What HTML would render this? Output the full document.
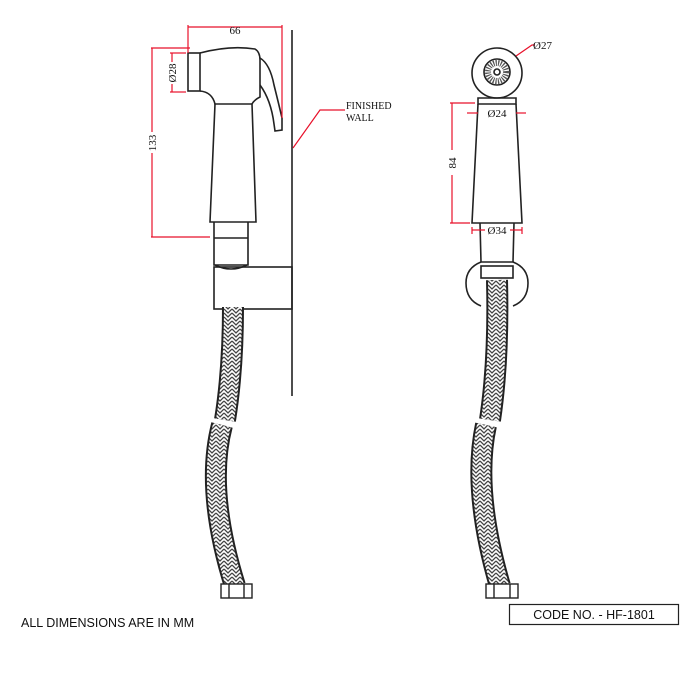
<!DOCTYPE html>
<html><head><style>html,body{margin:0;padding:0;background:#fff}svg{display:block}</style></head>
<body>
<svg width="700" height="700" viewBox="0 0 700 700" xmlns="http://www.w3.org/2000/svg" font-family="Liberation Serif, serif">
<defs>
<pattern id="h" width="8" height="8" patternUnits="userSpaceOnUse">
<rect width="8" height="8" fill="#fff"/>
<path d="M0,1 L4,5 L8,1 M0,5 L4,9 L8,5 M0,-3 L4,1 L8,-3" stroke="#444" stroke-width="1.3" fill="none"/>
</pattern>
</defs>
<g fill="none" stroke="#222" stroke-width="1.6">
<line x1="292" y1="30" x2="292" y2="396"/>
<!-- left head -->
<rect x="188" y="53" width="12" height="38"/>
<path d="M200,53 Q230,45 255,49 Q260,52 260,60 L260,97 Q254,100 252,104"/>
<path d="M200,91 Q212,92 215,104 L252,104"/>
<path d="M260,58 Q270,64 274,85 Q279,105 282,118 L282,130 L275,131 L274,124 Q271,100 260,85"/>
<path d="M215,104 L210,222 L256,222 L252,104"/>
<path d="M214,222 L214,265 L248,265 L248,222"/>
<line x1="214" y1="238" x2="248" y2="238"/>
<path d="M215,265 Q231,273 247,265"/>
<rect x="214" y="267" width="78" height="42"/>
<!-- right head -->
<circle cx="497" cy="73" r="25"/>
<circle cx="497" cy="72" r="13"/>
<circle cx="497" cy="72" r="9" stroke="#555" stroke-dasharray="1.2 1.2" stroke-width="6"/>
<circle cx="497" cy="72" r="3"/>
<path d="M478,98 L516,98 L516,104 L478,104 Z"/>
<path d="M478,104 L472,223 L522,223 L516,104"/>
<path d="M480,223 L481,262 L513,262 L514,223"/>
<path d="M481,262 Q466,268 466,283 Q466,300 481,306 M513,262 Q528,268 528,283 Q528,300 513,306"/>
<rect x="481" y="266" width="32" height="12"/>
</g>
<g fill="none" stroke-linecap="butt">
<path d="M233,307 Q233,370 225,420" stroke="#222" stroke-width="22"/>
<path d="M233,307 Q233,370 225,420" stroke="url(#h)" stroke-width="18"/>
<path d="M222,425 Q205,490 235,586" stroke="#222" stroke-width="22"/>
<path d="M222,425 Q205,490 235,586" stroke="url(#h)" stroke-width="18"/>
<path d="M497,280 Q499,360 490,420" stroke="#222" stroke-width="22"/>
<path d="M497,280 Q499,360 490,420" stroke="url(#h)" stroke-width="18"/>
<path d="M486,425 Q472,490 500,586" stroke="#222" stroke-width="22"/>
<path d="M486,425 Q472,490 500,586" stroke="url(#h)" stroke-width="18"/>
</g>
<g fill="#fff" stroke="#222" stroke-width="1.4">
<rect x="221" y="584" width="31" height="14"/><line x1="229" y1="584" x2="229" y2="598"/><line x1="244" y1="584" x2="244" y2="598"/>
<rect x="486" y="584" width="32" height="14"/><line x1="494" y1="584" x2="494" y2="598"/><line x1="510" y1="584" x2="510" y2="598"/>
</g>
<g stroke="#e8102a" stroke-width="1.2" fill="none">
<line x1="188" y1="27" x2="282" y2="27"/><line x1="188" y1="25" x2="188" y2="53"/><line x1="282" y1="25" x2="282" y2="118"/>
<line x1="151" y1="48" x2="190" y2="48"/><line x1="151" y1="237" x2="210" y2="237"/><line x1="152" y1="48" x2="152" y2="132"/><line x1="152" y1="153" x2="152" y2="237"/>
<line x1="170" y1="53" x2="186" y2="53"/><line x1="170" y1="92" x2="186" y2="92"/><line x1="172" y1="53" x2="172" y2="62"/><line x1="172" y1="84" x2="172" y2="92"/>
<path d="M293,148 L320,110 L345,110"/>
<path d="M516,56 L532,45 L535,45"/>
<line x1="450" y1="103" x2="475" y2="103"/><line x1="450" y1="223" x2="470" y2="223"/><line x1="452" y1="103" x2="452" y2="150"/><line x1="452" y1="175" x2="452" y2="223"/>
<line x1="467" y1="113" x2="478" y2="113"/><line x1="516" y1="113" x2="526" y2="113"/>
<line x1="472" y1="230" x2="485" y2="230"/><line x1="510" y1="230" x2="522" y2="230"/><line x1="472" y1="227" x2="472" y2="234"/><line x1="522" y1="227" x2="522" y2="234"/>
</g>
<g font-size="11" fill="#111">
<text x="235" y="34" text-anchor="middle">66</text>
<text transform="translate(176,73) rotate(-90)" text-anchor="middle">Ø28</text>
<text transform="translate(156,143) rotate(-90)" text-anchor="middle">133</text>
<text x="346" y="109" font-size="10">FINISHED</text>
<text x="346" y="121" font-size="10">WALL</text>
<text x="533" y="49">Ø27</text>
<text x="497" y="117" text-anchor="middle">Ø24</text>
<text transform="translate(456,163) rotate(-90)" text-anchor="middle">84</text>
<text x="497" y="234" text-anchor="middle">Ø34</text>
</g>
<text x="21" y="627" font-family="Liberation Sans, sans-serif" font-size="12.5" fill="#111">ALL DIMENSIONS ARE IN MM</text>
<rect x="509.5" y="604.5" width="169" height="20" fill="none" stroke="#222" stroke-width="1.2"/>
<text x="594" y="619" text-anchor="middle" font-family="Liberation Sans, sans-serif" font-size="12.5" fill="#111">CODE NO. - HF-1801</text>
</svg>
</body></html>
